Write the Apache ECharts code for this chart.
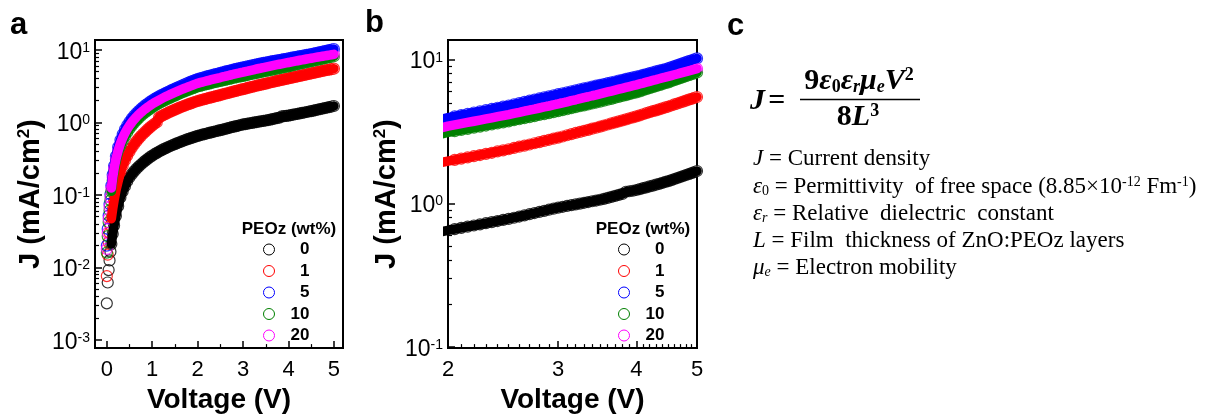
<!DOCTYPE html>
<html>
<head>
<meta charset="utf-8">
<script src="https://cdn.jsdelivr.net/npm/echarts@6/dist/echarts.min.js"></script>
<style>
html, body { margin: 0; padding: 0; background: #fff; }
#chart { width: 1209px; height: 419px; }
</style>
</head>
<body>
<div id="chart"></div>
<script>
// Voltage sweep (V)
const voltage = [
  0, 0.02, 0.04, 0.06, 0.08, 0.10, 0.13, 0.16, 0.20, 0.25,
  0.30, 0.35, 0.40, 0.45, 0.50,
  0.55, 0.60, 0.65, 0.70, 0.75, 0.80, 0.85, 0.90, 0.95, 1.00,
  1.05, 1.10, 1.15, 1.20, 1.25, 1.30, 1.35, 1.40, 1.45, 1.50,
  1.55, 1.60, 1.65, 1.70, 1.75, 1.80, 1.85, 1.90, 1.95, 2.00,
  2.05, 2.10, 2.15, 2.20, 2.25, 2.30, 2.35, 2.40, 2.45, 2.50,
  2.55, 2.60, 2.65, 2.70, 2.75, 2.80, 2.85, 2.90, 2.95, 3.00,
  3.05, 3.10, 3.15, 3.20, 3.25, 3.30, 3.35, 3.40, 3.45, 3.50,
  3.55, 3.60, 3.65, 3.70, 3.75, 3.80, 3.85, 3.90, 3.95, 4.00,
  4.05, 4.10, 4.15, 4.20, 4.25, 4.30, 4.35, 4.40, 4.45, 4.50,
  4.55, 4.60, 4.65, 4.70, 4.75, 4.80, 4.85, 4.90, 4.95, 5.00
];

// Current density J (mA/cm2) for each PEOz content
const jPEOz0 = [
  0.0032, 0.0062, 0.0092, 0.0125, 0.0165, 0.021, 0.029, 0.038, 0.051, 0.070,
  0.092, 0.112, 0.132, 0.154, 0.175,
  0.193, 0.211, 0.228, 0.245, 0.262, 0.280, 0.297, 0.314, 0.331, 0.348,
  0.364, 0.380, 0.396, 0.411, 0.427, 0.442, 0.457, 0.472, 0.487, 0.502,
  0.517, 0.532, 0.547, 0.562, 0.577, 0.592, 0.607, 0.621, 0.636, 0.650,
  0.663, 0.676, 0.689, 0.702, 0.715, 0.728, 0.741, 0.754, 0.767, 0.780,
  0.795, 0.810, 0.826, 0.841, 0.857, 0.872, 0.888, 0.904, 0.919, 0.935,
  0.947, 0.960, 0.972, 0.985, 0.997, 1.010, 1.022, 1.035, 1.047, 1.060,
  1.076, 1.092, 1.110, 1.128, 1.146, 1.164, 1.205, 1.215, 1.225, 1.240,
  1.258, 1.276, 1.294, 1.312, 1.330, 1.349, 1.368, 1.389, 1.410, 1.430,
  1.453, 1.477, 1.501, 1.525, 1.550, 1.575, 1.600, 1.625, 1.652, 1.680
];
const jPEOz1 = [
  0.0076, 0.0150, 0.0222, 0.030, 0.038, 0.047, 0.064, 0.084, 0.114, 0.155,
  0.205, 0.252, 0.300, 0.348, 0.396,
  0.446, 0.496, 0.546, 0.596, 0.646, 0.696, 0.746, 0.800, 0.852, 0.905,
  0.955, 1.005, 1.170, 1.217, 1.264, 1.311, 1.358, 1.405, 1.452, 1.499,
  1.546, 1.593, 1.640, 1.687, 1.734, 1.781, 1.828, 1.875, 1.922, 1.970,
  2.01, 2.05, 2.09, 2.13, 2.17, 2.21, 2.25, 2.30, 2.34, 2.38,
  2.43, 2.48, 2.52, 2.57, 2.62, 2.67, 2.72, 2.77, 2.82, 2.87,
  2.92, 2.98, 3.03, 3.09, 3.14, 3.20, 3.25, 3.31, 3.36, 3.42,
  3.48, 3.54, 3.60, 3.66, 3.72, 3.78, 3.84, 3.91, 3.97, 4.03,
  4.10, 4.17, 4.24, 4.31, 4.38, 4.44, 4.51, 4.58, 4.65, 4.72,
  4.80, 4.88, 4.95, 5.03, 5.11, 5.19, 5.27, 5.34, 5.42, 5.50
];
const jPEOz5 = [
  0.020, 0.034, 0.052, 0.075, 0.102, 0.135, 0.190, 0.250, 0.340, 0.455,
  0.570, 0.685, 0.800, 0.910, 1.020,
  1.125, 1.230, 1.332, 1.432, 1.530, 1.628, 1.725, 1.820, 1.915, 2.010,
  2.100, 2.190, 2.280, 2.370, 2.460, 2.550, 2.640, 2.730, 2.820, 2.910,
  3.014, 3.118, 3.222, 3.326, 3.430, 3.534, 3.638, 3.742, 3.846, 3.950,
  4.03, 4.12, 4.20, 4.29, 4.37, 4.46, 4.54, 4.63, 4.71, 4.80,
  4.89, 4.99, 5.08, 5.18, 5.27, 5.37, 5.46, 5.56, 5.65, 5.75,
  5.84, 5.93, 6.03, 6.12, 6.21, 6.31, 6.40, 6.49, 6.59, 6.68,
  6.77, 6.87, 6.96, 7.05, 7.15, 7.24, 7.34, 7.43, 7.53, 7.62,
  7.73, 7.84, 7.95, 8.06, 8.17, 8.28, 8.39, 8.50, 8.61, 8.72,
  8.87, 9.02, 9.16, 9.31, 9.46, 9.61, 9.76, 9.90, 10.05, 10.20
];
const jPEOz10 = [
  0.016, 0.027, 0.042, 0.061, 0.084, 0.112, 0.158, 0.208, 0.280, 0.372,
  0.462, 0.553, 0.643, 0.730, 0.815,
  0.900, 0.983, 1.065, 1.145, 1.225, 1.303, 1.380, 1.457, 1.535, 1.620,
  1.692, 1.764, 1.836, 1.908, 1.980, 2.052, 2.124, 2.196, 2.268, 2.340,
  2.418, 2.496, 2.574, 2.652, 2.730, 2.808, 2.886, 2.964, 3.042, 3.120,
  3.18, 3.24, 3.30, 3.36, 3.42, 3.48, 3.54, 3.60, 3.66, 3.72,
  3.79, 3.85, 3.92, 3.98, 4.05, 4.12, 4.18, 4.25, 4.31, 4.38,
  4.45, 4.52, 4.60, 4.67, 4.74, 4.81, 4.88, 4.96, 5.03, 5.10,
  5.18, 5.26, 5.34, 5.43, 5.51, 5.59, 5.67, 5.76, 5.84, 5.92,
  6.02, 6.12, 6.23, 6.33, 6.43, 6.54, 6.64, 6.74, 6.85, 6.95,
  7.07, 7.19, 7.31, 7.43, 7.55, 7.67, 7.79, 7.91, 8.03, 8.15
];
const jPEOz20 = [
  0.018, 0.030, 0.047, 0.068, 0.093, 0.124, 0.175, 0.230, 0.310, 0.410,
  0.510, 0.612, 0.712, 0.810, 0.905,
  1.000, 1.093, 1.185, 1.275, 1.363, 1.450, 1.535, 1.620, 1.705, 1.790,
  1.870, 1.950, 2.030, 2.110, 2.190, 2.270, 2.350, 2.430, 2.510, 2.590,
  2.675, 2.760, 2.845, 2.930, 3.015, 3.100, 3.185, 3.270, 3.360, 3.450,
  3.52, 3.59, 3.66, 3.73, 3.80, 3.87, 3.94, 4.01, 4.08, 4.15,
  4.23, 4.30, 4.38, 4.46, 4.53, 4.61, 4.69, 4.76, 4.84, 4.92,
  5.01, 5.09, 5.18, 5.26, 5.35, 5.44, 5.52, 5.61, 5.69, 5.78,
  5.87, 5.96, 6.05, 6.14, 6.23, 6.32, 6.41, 6.50, 6.59, 6.68,
  6.78, 6.87, 6.97, 7.07, 7.17, 7.26, 7.36, 7.46, 7.55, 7.65,
  7.75, 7.85, 7.95, 8.05, 8.15, 8.25, 8.35, 8.45, 8.55, 8.65
];

const seriesNames = ['0', '1', '5', '10', '20'];
const seriesColors = ['#000000', '#ff0000', '#0000ff', '#008000', '#ff00ff'];
const seriesValues = [jPEOz0, jPEOz1, jPEOz5, jPEOz10, jPEOz20];

// Tick positions
const xTicksA = [0, 1, 2, 3, 4, 5];
const xMinorA = [0.5, 1.5, 2.5, 3.5, 4.5];
const yTicksA = [0.001, 0.01, 0.1, 1, 10];
const yMinorA = [0.002, 0.003, 0.004, 0.005, 0.006, 0.007, 0.008, 0.009,
                 0.02, 0.03, 0.04, 0.05, 0.06, 0.07, 0.08, 0.09,
                 0.2, 0.3, 0.4, 0.5, 0.6, 0.7, 0.8, 0.9,
                 2, 3, 4, 5, 6, 7, 8, 9];
const xTicksB = [2, 3, 4, 5];
const xMinorB = [2.1, 2.2, 2.3, 2.4, 2.5, 2.6, 2.7, 2.8, 2.9,
                 3.1, 3.2, 3.3, 3.4, 3.5, 3.6, 3.7, 3.8, 3.9,
                 4.1, 4.2, 4.3, 4.4, 4.5, 4.6, 4.7, 4.8, 4.9];
const yTicksB = [0.1, 1, 10];
const yMinorB = [0.2, 0.3, 0.4, 0.5, 0.6, 0.7, 0.8, 0.9,
                 2, 3, 4, 5, 6, 7, 8, 9];

const SANS = '"Liberation Sans", Arial, sans-serif';
const SERIF = '"Liberation Serif", "Times New Roman", serif';

function powerLabel(v) {
  const e = Math.round(Math.log10(v));
  return '{b|10}{s|' + (e < 0 ? '-' + (-e) : e) + '}';
}
const powerRich = {
  b: { fontSize: 23, fontFamily: SANS, color: '#000' },
  s: { fontSize: 14, fontFamily: SANS, color: '#000', verticalAlign: 'top' }
};
const titleRich = {
  t: { fontSize: 29, fontWeight: 'bold', fontFamily: SANS, color: '#000' },
  u: { fontSize: 17, fontWeight: 'bold', fontFamily: SANS, color: '#000', verticalAlign: 'top' }
};
const nameStyle = { fontSize: 28, fontWeight: 'bold', fontFamily: SANS, color: '#000' };
const tickLabel = { color: '#000', fontSize: 22, fontFamily: SANS, margin: 11 };

function majorAxis(gridIndex, type, min, max, ticks, pos, extra) {
  return Object.assign({
    gridIndex, type, min, max, position: pos,
    axisLine: { show: true, onZero: false, lineStyle: { color: '#000', width: 2 } },
    axisTick: { show: true, inside: true, length: 7, customValues: ticks,
                lineStyle: { color: '#000', width: 1.5 } },
    axisLabel: Object.assign({ customValues: ticks }, tickLabel),
    splitLine: { show: false }, minorTick: { show: false }
  }, extra);
}
function minorAxis(gridIndex, type, min, max, ticks, pos) {
  return {
    gridIndex, type, min, max, position: pos,
    axisLine: { show: false, onZero: false },
    axisTick: { show: true, inside: true, length: 4, customValues: ticks,
                lineStyle: { color: '#000', width: 1.2 } },
    axisLabel: { show: false }, splitLine: { show: false }
  };
}

const xAxes = [
  majorAxis(0, 'value', -0.26, 5.2, xTicksA, 'bottom', {
    name: 'Voltage (V)', nameLocation: 'middle', nameGap: 30, nameTextStyle: nameStyle
  }),
  minorAxis(0, 'value', -0.26, 5.2, xMinorA, 'bottom'),
  majorAxis(1, 'log', 2, 5, xTicksB, 'bottom', {
    logBase: 10,
    name: 'Voltage (V)', nameLocation: 'middle', nameGap: 30, nameTextStyle: nameStyle
  }),
  minorAxis(1, 'log', 2, 5, xMinorB, 'bottom')
];

const yLabel = ticks => ({ customValues: ticks, formatter: powerLabel, rich: powerRich,
                           margin: 5, padding: [5, 0, 0, 0] });
const yAxes = [
  majorAxis(0, 'log', 0.000773, 13.65, yTicksA, 'left', {
    logBase: 10, axisLabel: yLabel(yTicksA),
    name: '{t|J (mA/cm}{u|2}{t|)}', nameLocation: 'middle', nameGap: 50, nameRotate: 90,
    nameTextStyle: { rich: titleRich }
  }),
  minorAxis(0, 'log', 0.000773, 13.65, yMinorA, 'left'),
  majorAxis(1, 'log', 0.0985, 13.7, yTicksB, 'left', {
    logBase: 10, axisLabel: yLabel(yTicksB),
    name: '{t|J (mA/cm}{u|2}{t|)}', nameLocation: 'middle', nameGap: 43, nameRotate: 90,
    nameTextStyle: { rich: titleRich }
  }),
  minorAxis(1, 'log', 0.0985, 13.7, yMinorB, 'left')
];

// Each PEOz content: a dense trace through the sweep plus open circles at every point;
// the final point of the sweep is drawn as a white-filled circle
const series = [];
[[0, 0, 0.1, -1], [2, 2, 1.9, 2.04]].forEach(([xi, yi, traceFrom, ringsFrom]) => {
  seriesValues.forEach((vals, k) => {
    const trace = [], rings = [];
    voltage.forEach((v, i) => {
      if (v >= traceFrom) trace.push([v, vals[i]]);
      if (v >= ringsFrom) {
        const last = i === voltage.length - 1;
        rings.push(last ? { value: [v, vals[i]], itemStyle: { color: '#fff' } } : [v, vals[i]]);
      }
    });
    series.push({
      type: 'line', name: seriesNames[k], xAxisIndex: xi, yAxisIndex: yi,
      data: trace, showSymbol: false, clip: true, silent: true, smooth: false,
      lineStyle: { color: seriesColors[k], width: 9.5, cap: 'round', join: 'round' }
    });
    series.push({
      type: 'scatter', name: seriesNames[k], xAxisIndex: xi, yAxisIndex: yi,
      data: rings, symbol: 'circle', symbolSize: 11, clip: true, silent: true,
      itemStyle: { color: 'rgba(255,255,255,0)', borderColor: seriesColors[k], borderWidth: 1.2 }
    });
  });
});

function legendFor(left) {
  return {
    orient: 'vertical', left, top: 241, padding: 0,
    itemWidth: 11, itemHeight: 11, itemGap: 4.5,
    data: seriesNames.map((n, k) => ({
      name: n, icon: 'circle',
      itemStyle: { color: '#fff', borderColor: seriesColors[k], borderWidth: 1 }
    })),
    selectedMode: false,
    formatter: n => '{n|' + n + '}',
    textStyle: { rich: { n: { width: 30, align: 'right', fontSize: 17, fontWeight: 'bold',
                             fontFamily: SANS, color: '#000' } } }
  };
}

const lineRich = {
  n: { fontSize: 23, fontFamily: SERIF, color: '#000' },
  i: { fontSize: 23, fontFamily: SERIF, fontStyle: 'italic', color: '#000' },
  sub: { fontSize: 14, fontFamily: SERIF, color: '#000', verticalAlign: 'bottom' },
  subi: { fontSize: 14, fontFamily: SERIF, fontStyle: 'italic', color: '#000', verticalAlign: 'bottom' },
  sup: { fontSize: 14, fontFamily: SERIF, color: '#000', verticalAlign: 'top' }
};
const eqRich = {
  b: { fontSize: 30, fontFamily: SERIF, fontWeight: 'bold', color: '#000' },
  bi: { fontSize: 30, fontFamily: SERIF, fontWeight: 'bold', fontStyle: 'italic', color: '#000' },
  bsub: { fontSize: 18, fontFamily: SERIF, fontWeight: 'bold', color: '#000', verticalAlign: 'bottom' },
  bsubi: { fontSize: 18, fontFamily: SERIF, fontWeight: 'bold', fontStyle: 'italic', color: '#000', verticalAlign: 'bottom' },
  bsup: { fontSize: 18, fontFamily: SERIF, fontWeight: 'bold', color: '#000', verticalAlign: 'top' }
};

function txt(x, y, text, rich, align) {
  return { type: 'text', x, y, silent: true,
           style: { text, rich, align: align || 'left', verticalAlign: 'middle', fill: '#000' } };
}
const letterRich = { L: { fontSize: 31, fontWeight: 'bold', fontFamily: SANS, color: '#000' } };
const legendTitleRich = { h: { fontSize: 17, fontWeight: 'bold', fontFamily: SANS, color: '#000' } };

const graphic = [
  txt(10, 25, '{L|a}', letterRich),
  txt(365, 23, '{L|b}', letterRich),
  txt(727, 26, '{L|c}', letterRich),
  txt(289, 229, '{h|PEOz (wt%)}', legendTitleRich, 'center'),
  txt(643, 229, '{h|PEOz (wt%)}', legendTitleRich, 'center'),
  txt(750, 101, '{bi|J} {b|=}', eqRich),
  txt(859, 81, '{b|9}{bi|ε}{bsub|0}{bi|ε}{bsubi|r}{bi|μ}{bsubi|e}{bi|V}{bsup|2}', eqRich, 'center'),
  { type: 'line', silent: true, shape: { x1: 800, y1: 99.5, x2: 920, y2: 99.5 },
    style: { stroke: '#000', lineWidth: 1.5 } },
  txt(858, 117, '{b|8}{bi|L}{bsup|3}', eqRich, 'center'),
  txt(753, 159, '{i|J}{n| = Current density}', lineRich),
  txt(753, 187, '{i|ε}{sub|0}{n| = Permittivity  of free space (8.85×10}{sup|-12}{n| Fm}{sup|-1}{n|)}', lineRich),
  txt(753, 214, '{i|ε}{subi|r}{n| = Relative  dielectric  constant}', lineRich),
  txt(753, 241, '{i|L}{n| = Film  thickness of ZnO:PEOz layers}', lineRich),
  txt(753, 268, '{i|μ}{subi|e}{n| = Electron mobility}', lineRich)
];

const chart = echarts.init(document.getElementById('chart'), null, { renderer: 'canvas' });
chart.setOption({
  backgroundColor: '#fff',
  animation: false,
  grid: [
    { left: 95, top: 40, width: 248, height: 315, show: true, borderColor: '#000', borderWidth: 2, containLabel: false },
    { left: 448, top: 40, width: 249, height: 315, show: true, borderColor: '#000', borderWidth: 2, containLabel: false }
  ],
  xAxis: xAxes,
  yAxis: yAxes,
  legend: [legendFor(263), legendFor(618)],
  series,
  graphic
});
</script>
</body>
</html>
